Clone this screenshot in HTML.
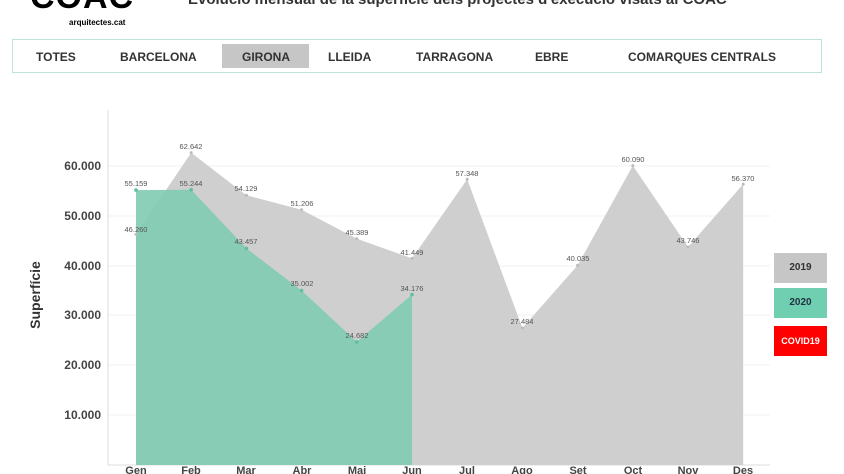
<!DOCTYPE html>
<html><head><meta charset="utf-8"><style>
body{margin:0;width:844px;height:474px;overflow:hidden;background:#fff;font-family:"Liberation Sans",sans-serif;position:relative}
.nav{position:absolute;left:12px;top:39px;width:808px;height:32px;border:1px solid #bfe3d6}
.nav span{position:absolute;top:10px;font-size:12px;font-weight:bold;color:#333}
.sel{position:absolute;left:209px;top:4px;width:87px;height:24px;background:#c6c6c6}
.lg{position:absolute;left:774px;width:53px;height:30px;font-size:10px;font-weight:bold;text-align:center;line-height:30px}
</style></head><body>
<div style="position:absolute;left:30px;top:-22px;font-size:34px;font-weight:bold;letter-spacing:1px">COAC</div>
<div style="position:absolute;left:69px;top:18px;font-size:8px;font-weight:bold">arquitectes.cat</div>
<div style="position:absolute;left:188px;top:-9px;font-size:15px;font-weight:bold;color:#333">Evolució mensual de la superfície dels projectes d'execució visats al COAC</div>
<div class="nav"><div class="sel"></div>
<span style="left:23px">TOTES</span><span style="left:107px">BARCELONA</span><span style="left:229px">GIRONA</span><span style="left:315px">LLEIDA</span><span style="left:403px">TARRAGONA</span><span style="left:522px">EBRE</span><span style="left:615px">COMARQUES CENTRALS</span></div>
<svg width="844" height="474" style="position:absolute;left:0;top:0" font-family="Liberation Sans,sans-serif">
<g stroke="#f0f0f0" stroke-width="1">
<line x1="108" x2="770" y1="166" y2="166"/><line x1="108" x2="770" y1="216" y2="216"/><line x1="108" x2="770" y1="266" y2="266"/><line x1="108" x2="770" y1="315" y2="315"/><line x1="108" x2="770" y1="365" y2="365"/><line x1="108" x2="770" y1="415" y2="415"/></g>
<line x1="108" y1="110" x2="108" y2="465" stroke="#ddd"/>
<line x1="108" y1="465" x2="770" y2="465" stroke="#ddd"/>
<polygon fill="#cfcfcf" points="136,465 136,234.4 191.2,152.8 246.4,195.2 301.6,209.8 356.8,238.8 412,258.4 467.2,179.2 522.4,328 577.6,265.4 632.8,165.6 688,247 743.2,184.1 743.2,465"/>
<polygon fill="#7fcbb2" fill-opacity="0.9" points="136,465 136,190.1 191.2,189.7 246.4,248.4 301.6,290.5 356.8,341.9 412,294.6 412,465"/>
<g font-size="12" font-weight="bold" fill="#444" text-anchor="end">
<text x="101" y="170">60.000</text><text x="101" y="220">50.000</text><text x="101" y="270">40.000</text><text x="101" y="319">30.000</text><text x="101" y="369">20.000</text><text x="101" y="419">10.000</text></g>
<text transform="translate(40,295) rotate(-90)" font-size="14" font-weight="bold" fill="#333" text-anchor="middle">Superfície</text>
<g font-size="11" font-weight="bold" fill="#444" text-anchor="middle">
<text x="136" y="474">Gen</text><text x="191" y="474">Feb</text><text x="246" y="474">Mar</text><text x="302" y="474">Abr</text><text x="357" y="474">Mai</text><text x="412" y="474">Jun</text><text x="467" y="474">Jul</text><text x="522" y="474">Ago</text><text x="578" y="474">Set</text><text x="633" y="474">Oct</text><text x="688" y="474">Nov</text><text x="743" y="474">Des</text></g>
<g font-size="7.5" fill="#555" text-anchor="middle">
<text x="136" y="232">46.260</text><text x="191" y="149">62.642</text><text x="246" y="191">54.129</text><text x="302" y="206">51.206</text><text x="357" y="235">45.389</text><text x="412" y="255">41.449</text><text x="467" y="176">57.348</text><text x="522" y="324">27.484</text><text x="578" y="261">40.035</text><text x="633" y="162">60.090</text><text x="688" y="243">43.746</text><text x="743" y="181">56.370</text>
<text x="136" y="186">55.159</text><text x="191" y="186">55.244</text><text x="246" y="244">43.457</text><text x="302" y="286">35.002</text><text x="357" y="338">24.682</text><text x="412" y="291">34.176</text></g>
<g fill="#bbb"><circle cx="136" cy="234.4" r="1.5"/><circle cx="191.2" cy="152.8" r="1.5"/><circle cx="246.4" cy="195.2" r="1.5"/><circle cx="301.6" cy="209.8" r="1.5"/><circle cx="356.8" cy="238.8" r="1.5"/><circle cx="412" cy="258.4" r="1.5"/><circle cx="467.2" cy="179.2" r="1.5"/><circle cx="522.4" cy="328" r="1.5"/><circle cx="577.6" cy="265.4" r="1.5"/><circle cx="632.8" cy="165.6" r="1.5"/><circle cx="688" cy="247" r="1.5"/><circle cx="743.2" cy="184.1" r="1.5"/></g>
<g fill="#5fbf9f"><circle cx="136" cy="190.1" r="1.8"/><circle cx="191.2" cy="189.7" r="1.8"/><circle cx="246.4" cy="248.4" r="1.8"/><circle cx="301.6" cy="290.5" r="1.8"/><circle cx="356.8" cy="341.9" r="1.8"/><circle cx="412" cy="294.6" r="1.8"/></g>
</svg>
<div class="lg" style="top:253px;background:#c6c6c6;color:#333">2019</div>
<div class="lg" style="top:288px;background:#6fcfb0;color:#234">2020</div>
<div class="lg" style="top:326px;background:#f00;color:#fff;font-size:9px">COVID19</div>
</body></html>
